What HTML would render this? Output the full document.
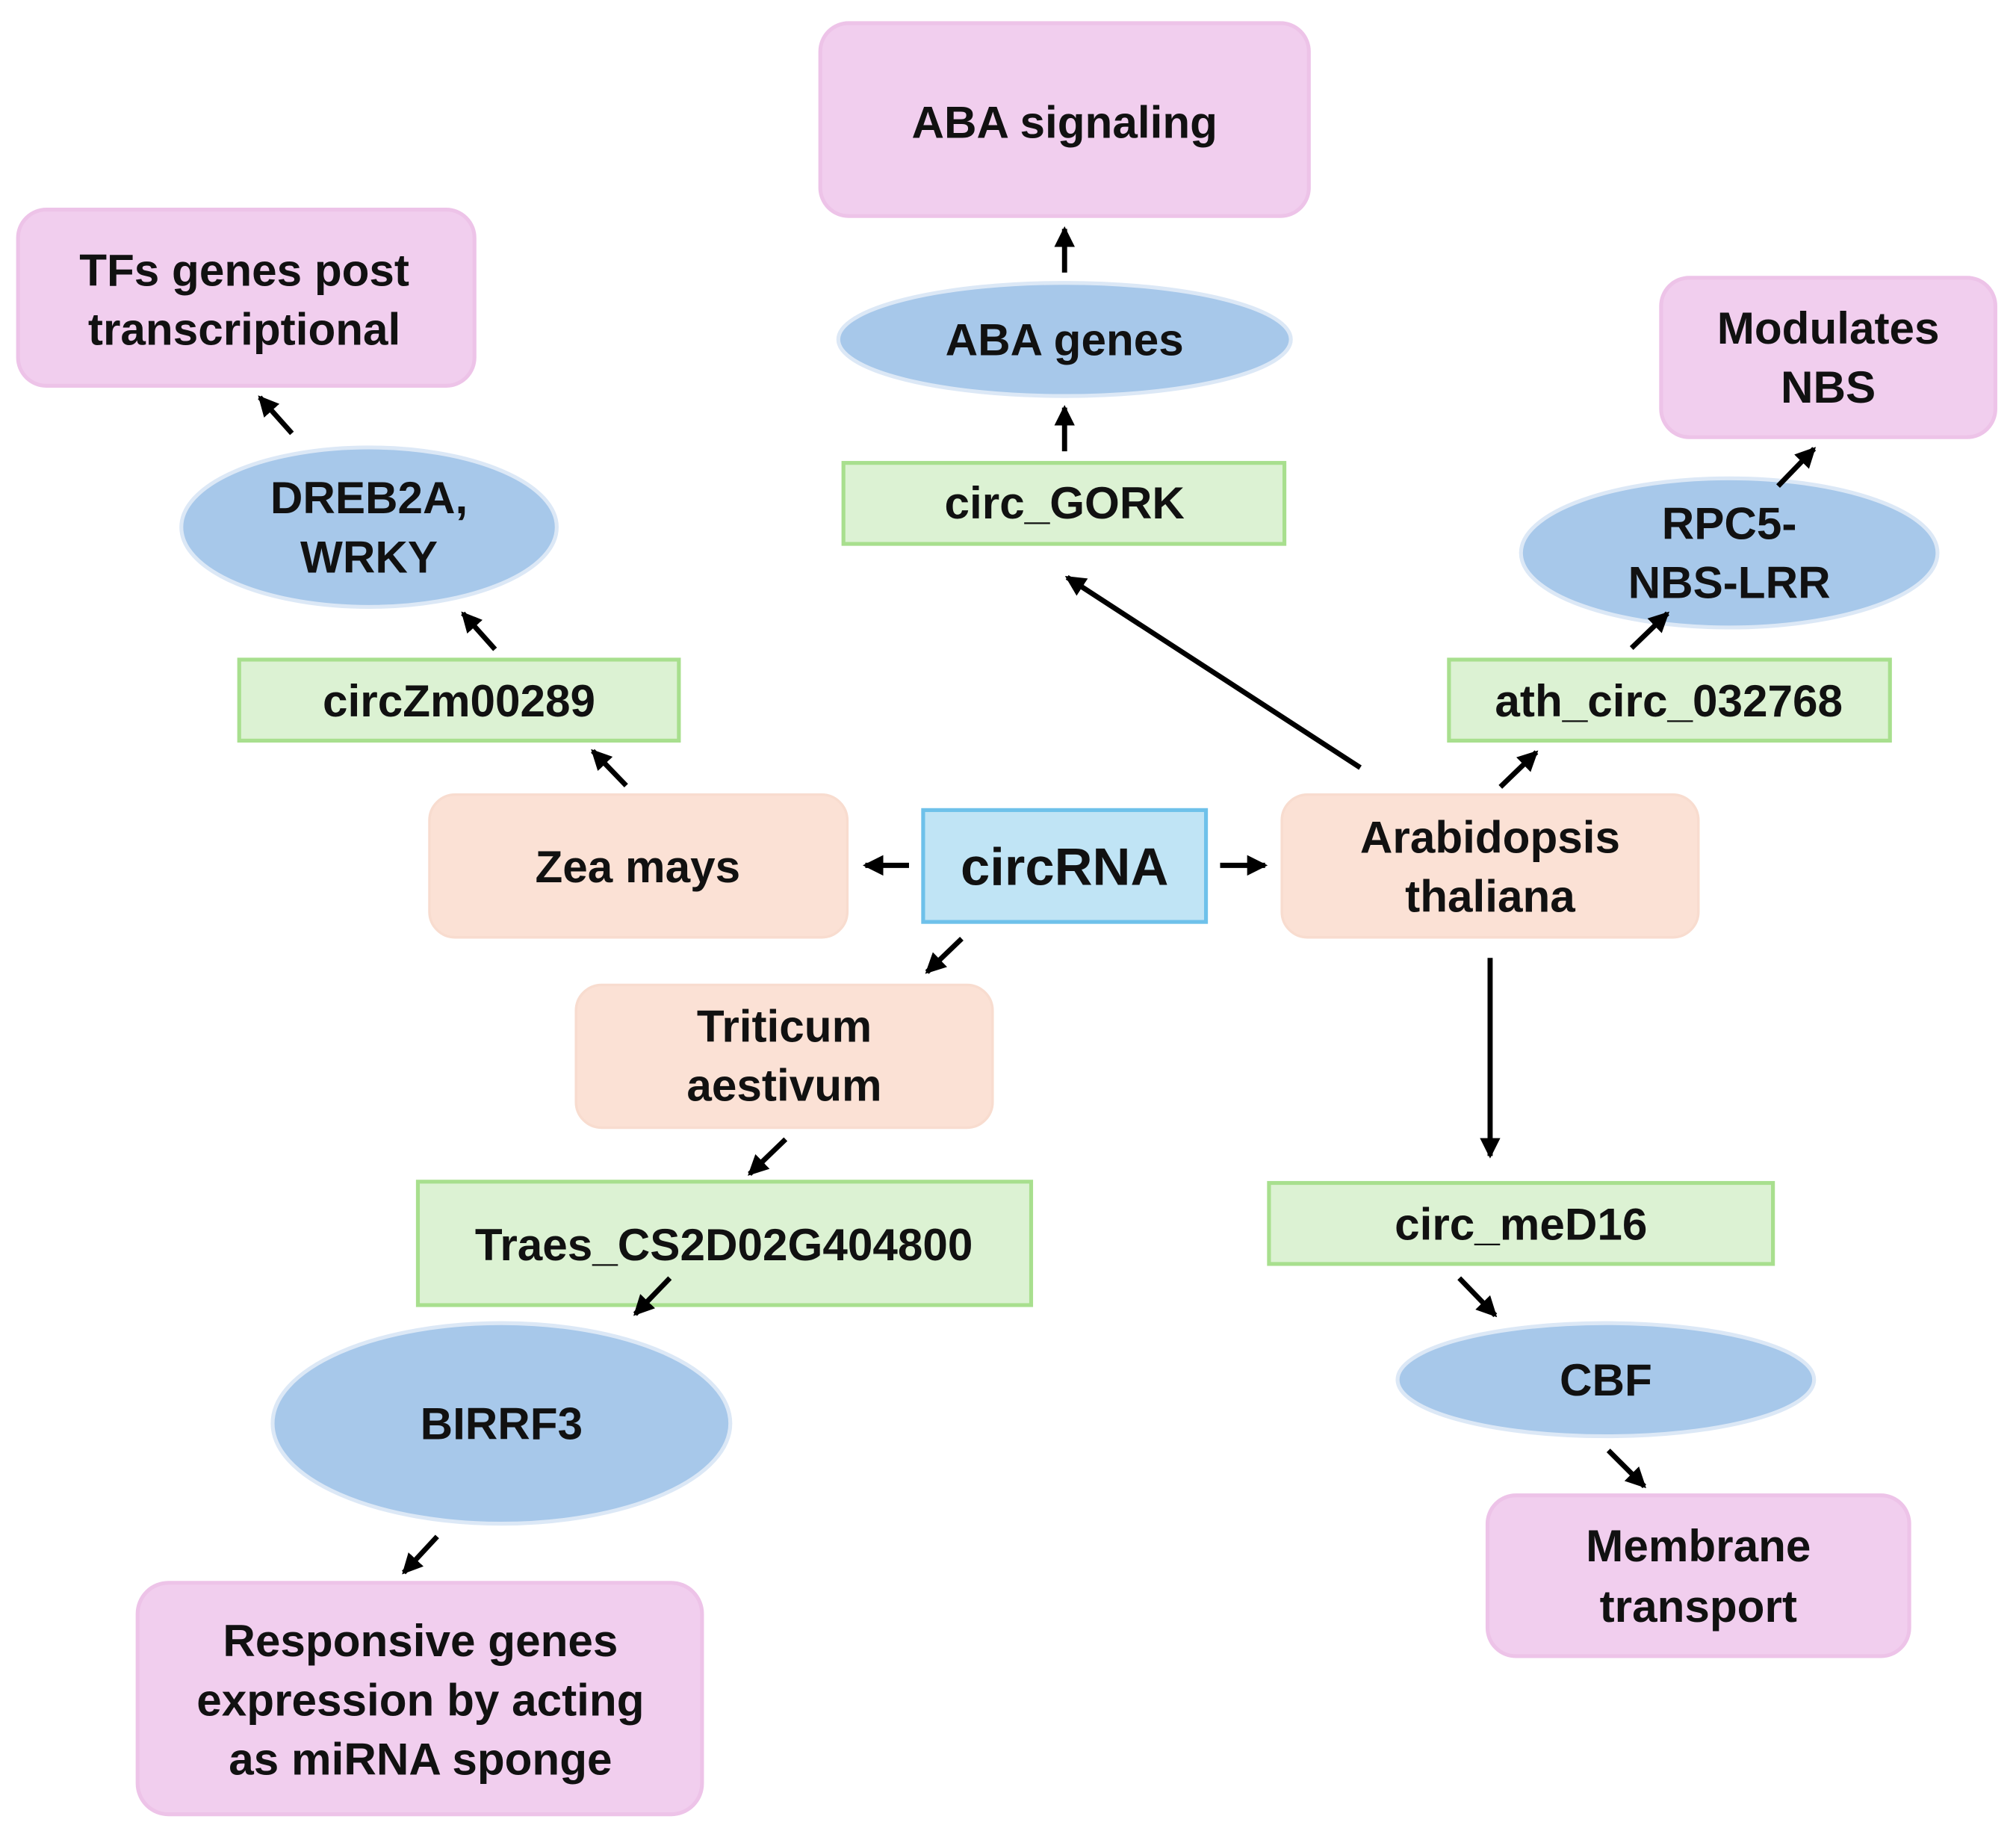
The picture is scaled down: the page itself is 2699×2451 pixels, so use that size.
<!DOCTYPE html>
<html><head><meta charset="utf-8"><style>
html,body{margin:0;padding:0;background:#fff;}
svg{display:block;}
text{font-family:"Liberation Sans",Arial,sans-serif;font-weight:bold;fill:#111;text-anchor:middle;dominant-baseline:central;}
</style></head><body>
<svg width="2699" height="2451" viewBox="0 0 1568 1424" xmlns="http://www.w3.org/2000/svg">
<defs>
<marker id="a" markerUnits="userSpaceOnUse" markerWidth="18" markerHeight="18" refX="14" refY="9" orient="auto">
<path d="M0,1 L16,9 L0,17 Z" fill="#000"/>
</marker>
</defs>
<g stroke="#EDC3E8" stroke-width="3" fill="#F1CEEE">
<rect x="638" y="18" width="380" height="150" rx="22"/>
<rect x="14" y="163" width="355" height="137" rx="22"/>
<rect x="1292" y="216" width="260" height="124" rx="22"/>
<rect x="107" y="1231" width="439" height="180" rx="24"/>
<rect x="1157" y="1163" width="328" height="125" rx="22"/>
</g>
<g stroke="#DCE8F6" stroke-width="3" fill="#A7C8EA">
<ellipse cx="828" cy="264" rx="176" ry="44"/>
<ellipse cx="287" cy="410" rx="146" ry="62"/>
<ellipse cx="1345" cy="430" rx="162" ry="58"/>
<ellipse cx="390" cy="1107" rx="178" ry="78"/>
<ellipse cx="1249" cy="1073" rx="162" ry="44"/>
</g>
<g stroke="#A8DF8E" stroke-width="3" fill="#DCF2D3">
<rect x="656" y="360" width="343" height="63"/>
<rect x="186" y="513" width="342" height="63"/>
<rect x="1127" y="513" width="343" height="63"/>
<rect x="325" y="919" width="477" height="96"/>
<rect x="987" y="920" width="392" height="63"/>
</g>
<g stroke="#F8DCCF" stroke-width="2" fill="#FBE1D5">
<rect x="334" y="618" width="325" height="111" rx="20"/>
<rect x="997" y="618" width="324" height="111" rx="20"/>
<rect x="448" y="766" width="324" height="111" rx="20"/>
</g>
<rect x="718" y="630" width="220" height="87" fill="#C0E4F5" stroke="#6EC1EA" stroke-width="3"/>
<g stroke="#000" stroke-width="4" marker-end="url(#a)">
<line x1="828" y1="212" x2="828" y2="178"/>
<line x1="828" y1="351" x2="828" y2="317"/>
<line x1="227" y1="337" x2="202" y2="309"/>
<line x1="385" y1="505" x2="360" y2="477"/>
<line x1="487" y1="611" x2="461" y2="584"/>
<line x1="707" y1="673" x2="673" y2="673"/>
<line x1="949" y1="673" x2="984" y2="673"/>
<line x1="1058" y1="597" x2="830" y2="449"/>
<line x1="1167" y1="612" x2="1195" y2="585"/>
<line x1="1269" y1="504" x2="1297" y2="477"/>
<line x1="1383" y1="378" x2="1411" y2="349"/>
<line x1="748" y1="730" x2="721" y2="756"/>
<line x1="1159" y1="745" x2="1159" y2="899"/>
<line x1="611" y1="886" x2="583" y2="913"/>
<line x1="521" y1="994" x2="494" y2="1022"/>
<line x1="340" y1="1195" x2="314" y2="1223"/>
<line x1="1135" y1="994" x2="1163" y2="1023"/>
<line x1="1251" y1="1128" x2="1279" y2="1156"/>
</g>
<g font-size="35">
<text x="828" y="95">ABA signaling</text>
<text x="190" y="210">TFs genes post</text>
<text x="190" y="256">transcriptional</text>
<text x="1422" y="255">Modulates</text>
<text x="1422" y="301">NBS</text>
<text x="828" y="264">ABA genes</text>
<text x="287" y="387">DREB2A,</text>
<text x="287" y="433">WRKY</text>
<text x="1345" y="407">RPC5-</text>
<text x="1345" y="453">NBS-LRR</text>
<text x="828" y="391">circ_GORK</text>
<text x="357" y="545">circZm00289</text>
<text x="1298" y="545">ath_circ_032768</text>
<text x="496" y="674">Zea mays</text>
<text x="828" y="674" font-size="41">circRNA</text>
<text x="1159" y="651">Arabidopsis</text>
<text x="1159" y="697">thaliana</text>
<text x="610" y="798">Triticum</text>
<text x="610" y="844">aestivum</text>
<text x="563" y="968">Traes_CS2D02G404800</text>
<text x="1183" y="952">circ_meD16</text>
<text x="390" y="1107">BIRRF3</text>
<text x="1249" y="1073">CBF</text>
<text x="327" y="1276">Responsive genes</text>
<text x="327" y="1322">expression by acting</text>
<text x="327" y="1368">as miRNA sponge</text>
<text x="1321" y="1202">Membrane</text>
<text x="1321" y="1249">transport</text>
</g>
</svg>
</body></html>
